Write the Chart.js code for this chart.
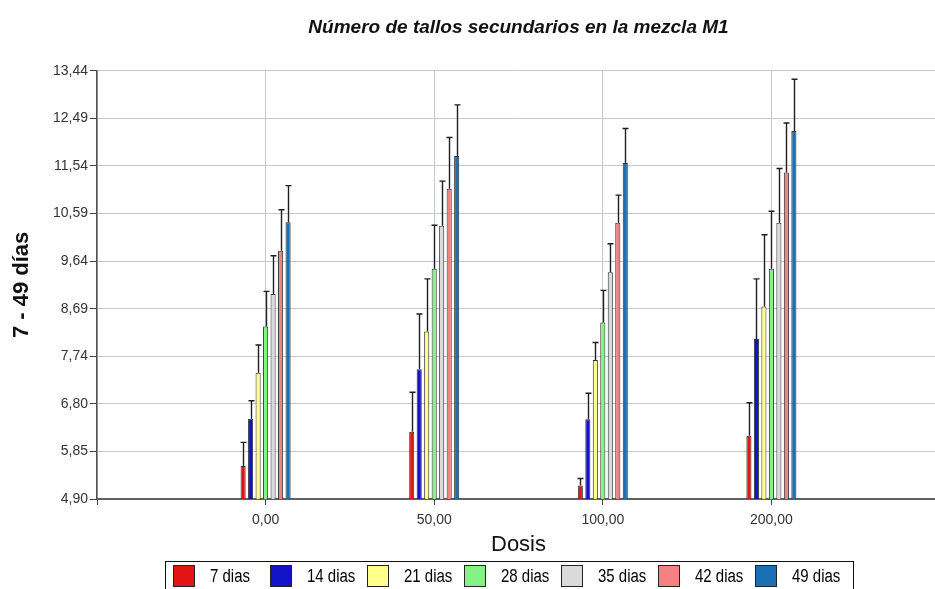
<!DOCTYPE html>
<html>
<head>
<meta charset="utf-8">
<script src="https://cdn.jsdelivr.net/npm/chart.js@4/dist/chart.umd.min.js"></script>
<style>
  html, body { margin: 0; padding: 0; background: #fff; overflow: hidden; }
  #frame { width: 935px; height: 589px; overflow: hidden; position: relative; }
  #chart { display: block; }
</style>
</head>
<body>
<div id="frame"><canvas id="chart" width="947" height="589"></canvas></div>
<script>
// Dosis (eje X)
const categories = ['0,00', '50,00', '100,00', '200,00'];

// Series: media del número de tallos secundarios por fecha de muestreo
const seriesNames = ['7 dias', '14 dias', '21 dias', '28 dias', '35 dias', '42 dias', '49 dias'];
const dias7  = [5.56, 6.24, 5.17, 6.16];
const dias14 = [6.50, 7.49, 6.49, 8.09];
const dias21 = [7.42, 8.24, 7.67, 8.74];
const dias28 = [8.34, 9.49, 8.42, 9.49];
const dias35 = [8.99, 10.35, 9.42, 10.41];
const dias42 = [9.85, 11.09, 10.41, 11.41];
const dias49 = [10.42, 11.74, 11.60, 12.24];

// Barras de error (desviación hacia arriba)
const err7  = [0.47, 0.79, 0.14, 0.66];
const err14 = [0.36, 1.10, 0.52, 1.20];
const err21 = [0.55, 1.05, 0.35, 1.43];
const err28 = [0.70, 0.87, 0.64, 1.15];
const err35 = [0.76, 0.89, 0.57, 1.08];
const err42 = [0.82, 1.02, 0.55, 0.99];
const err49 = [0.73, 1.02, 0.69, 1.03];

// Marcas del eje Y
const yTickValues = [4.90, 5.849, 6.798, 7.747, 8.696, 9.644, 10.593, 11.542, 12.491, 13.44];
const yTickLabels = ['4,90', '5,85', '6,80', '7,74', '8,69', '9,64', '10,59', '11,54', '12,49', '13,44'];

const seriesValues = [dias7, dias14, dias21, dias28, dias35, dias42, dias49];
const seriesErrors = [err7, err14, err21, err28, err35, err42, err49];
const seriesColors = ['#e31414', '#1212c8', '#ffff8c', '#86f286', '#dadada', '#f48282', '#1a6fb5'];

const FONT = "'Liberation Sans', Arial, sans-serif";

// Empty slot on each side so the dose groups sit one step in from the edges
const labels = [''].concat(categories, ['']);
const pad = arr => [null].concat(arr, [null]);

const datasets = seriesNames.map((name, i) => ({
  label: name,
  data: pad(seriesValues[i]),
  errors: pad(seriesErrors[i]),
  backgroundColor: seriesColors[i],
  borderColor: '#333333',
  borderWidth: 1,
  categoryPercentage: 0.311,
  barPercentage: 0.68
}));

// Upper error whiskers, positioned from each bar and the value scale
const errorBars = {
  id: 'errorBars',
  afterDatasetsDraw(chart) {
    const ctx = chart.ctx;
    const yScale = chart.scales.y;
    ctx.save();
    ctx.strokeStyle = '#1e1e1e';
    ctx.lineWidth = 1.4;
    chart.data.datasets.forEach((ds, i) => {
      const meta = chart.getDatasetMeta(i);
      meta.data.forEach((bar, j) => {
        const v = ds.data[j];
        const e = ds.errors[j];
        if (v == null || e == null) return;
        const x = Math.round(bar.x) + 0.5;
        const yTop = yScale.getPixelForValue(v + e);
        ctx.beginPath();
        ctx.moveTo(x, bar.y);
        ctx.lineTo(x, yTop);
        ctx.moveTo(x - 3, yTop);
        ctx.lineTo(x + 3, yTop);
        ctx.stroke();
      });
    });
    ctx.restore();
  }
};

// Boxed legend with evenly spaced entries along the bottom
const boxLegend = {
  id: 'boxLegend',
  afterDraw(chart, args, opts) {
    const ctx = chart.ctx;
    ctx.save();
    ctx.strokeStyle = '#111';
    ctx.lineWidth = 1;
    ctx.strokeRect(opts.left + 0.5, opts.top + 0.5, opts.width, 40);
    chart.data.datasets.forEach((ds, i) => {
      const sx = opts.left + opts.first + i * opts.step;
      const sy = opts.top + 4;
      ctx.fillStyle = ds.backgroundColor;
      ctx.fillRect(sx, sy, 22, 22);
      ctx.strokeStyle = '#222';
      ctx.strokeRect(sx + 0.5, sy + 0.5, 21, 21);
      // slightly tall lettering
      ctx.save();
      ctx.translate(sx + 37, sy + 12);
      ctx.scale(1, 1.2);
      ctx.font = '15px ' + FONT;
      ctx.textBaseline = 'middle';
      ctx.textAlign = 'left';
      ctx.fillStyle = '#000';
      ctx.fillText(ds.label, 0, 0);
      ctx.restore();
    });
    ctx.restore();
  }
};

new Chart(document.getElementById('chart'), {
  type: 'bar',
  data: { labels, datasets },
  plugins: [errorBars, boxLegend],
  options: {
    responsive: false,
    animation: false,
    devicePixelRatio: 1,
    layout: { padding: { left: 0, right: 3, top: 0, bottom: 28 } },
    plugins: {
      legend: { display: false },
      tooltip: { enabled: false },
      title: {
        display: true,
        fullSize: false,
        text: 'Número de tallos secundarios en la mezcla M1',
        color: '#111',
        font: { family: FONT, size: 19, weight: 'bold', style: 'italic', lineHeight: 1.2 },
        padding: { top: 16, bottom: 32 }
      },
      boxLegend: { left: 165, top: 561, width: 688, first: 8, step: 97 }
    },
    scales: {
      x: {
        offset: false,
        grid: { offset: false, color: '#c8c8c8', lineWidth: 1, tickColor: '#444', tickLength: 6, drawOnChartArea: true },
        border: { display: true, color: '#606060', width: 2 },
        ticks: { color: '#333', font: { family: FONT, size: 14 }, padding: 7, maxRotation: 0, autoSkip: false },
        title: { display: true, text: 'Dosis', color: '#111', font: { family: FONT, size: 22 }, padding: { top: 0, bottom: 3 } },
        afterFit(scale) { scale.height = 62; }
      },
      y: {
        min: 4.90,
        max: 13.44,
        grid: { color: '#c8c8c8', lineWidth: 1, tickColor: '#444', tickLength: 7 },
        border: { display: true, color: '#505050', width: 1.5 },
        afterBuildTicks(scale) { scale.ticks = yTickValues.map(v => ({ value: v })); },
        ticks: {
          color: '#333',
          font: { family: FONT, size: 14 },
          padding: 2,
          callback: (value, index) => yTickLabels[index]
        },
        title: { display: true, text: '7 - 49 días', color: '#111', font: { family: FONT, size: 22, weight: 'bold' }, padding: { top: 9, bottom: 0 } },
        afterFit(scale) { scale.width = 97; }
      }
    }
  }
});
</script>
</body>
</html>
